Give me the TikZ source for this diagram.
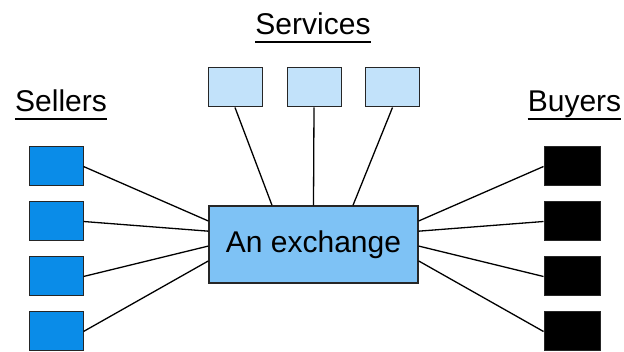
\documentclass[tikz,border=0pt]{standalone}
\usepackage{fontspec}
\setmainfont{Liberation Sans}
\usetikzlibrary{calc}
\definecolor{sellblue}{RGB}{10,140,232}
\definecolor{servblue}{RGB}{194,226,250}
\definecolor{exblue}{RGB}{126,194,245}

\begin{document}
\begin{tikzpicture}[x=1pt,y=-1pt,
    box/.style={draw=black!85, line width=1pt, minimum width=54pt, minimum height=39pt, inner sep=0pt},
    head/.style={font=\fontsize{30}{35}\selectfont, inner sep=0pt, anchor=base},
    link/.style={line width=1.3pt}]
    \useasboundingbox (0,0) rectangle (624,352);

    \node[box, fill=exblue, minimum width=209pt, minimum height=77pt, line width=1.4pt,
        font=\fontsize{30}{36}\selectfont] (ex) at (313.5,244.5) {An exchange};

    \node[head] (sellers) at (61,112) {Sellers};
    \node[head] (services) at (313,35) {Services};
    \node[head] (buyers) at (574.5,112) {Buyers};
    \foreach \h in {sellers,services,buyers}
        \draw[line width=1.8pt] ($(\h.base west)+(0,7)$) -- ($(\h.base east)+(0,7)$);

    \foreach \i in {1,...,4} {
        \node[box, fill=sellblue] (s\i) at (56,{111.5+55*\i}) {};
        \node[box, fill=black, minimum width=56pt] (b\i) at (572,{111.5+55*\i}) {};
    }
    \foreach \i/\x in {1/235,2/314,3/392.5}
        \node[box, fill=servblue] (v\i) at (\x,87.5) {};

    \foreach \i/\f in {1/0.2,2/0.33,3/0.52,4/0.71} {
        \draw[link] (s\i.east) -- ($(ex.north west)!\f!(ex.south west)$);
        \draw[link] (b\i.west) -- ($(ex.north east)!\f!(ex.south east)$);
    }
    \foreach \i/\d in {1/-41.5,2/0,3/39.5}
        \draw[link] (v\i.south) -- ($(ex.north)+(\d,0)$);
\end{tikzpicture}
\end{document}
